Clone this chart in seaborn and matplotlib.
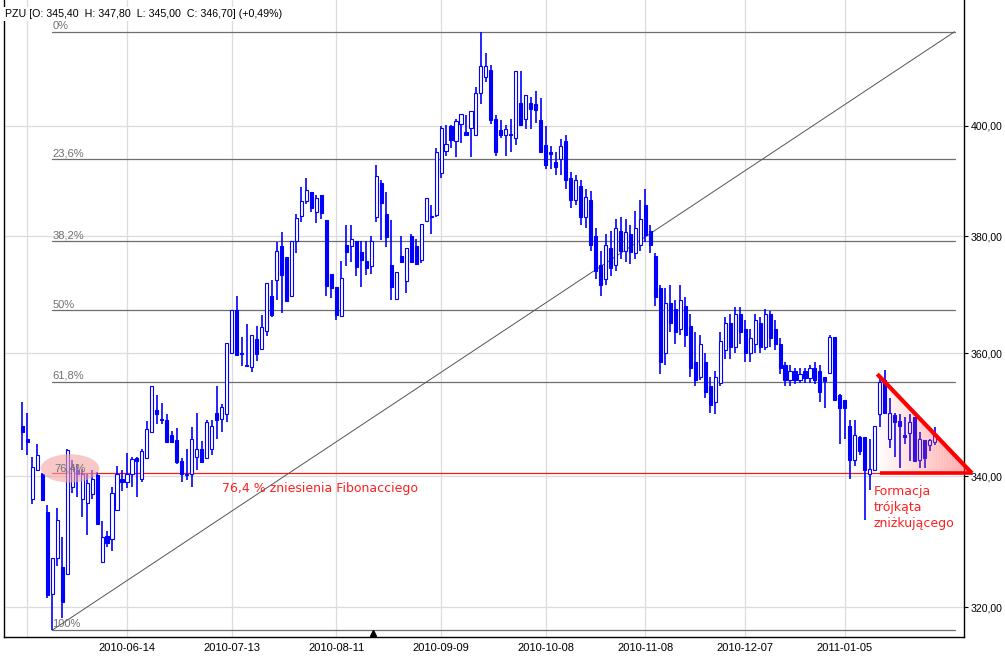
import numpy as np
import pandas as pd
import matplotlib
matplotlib.use("Agg")
import matplotlib.pyplot as plt
import matplotlib.transforms as mtransforms
from matplotlib.patches import Polygon
from matplotlib.ticker import NullLocator
import seaborn as sns

# ---------------- data ----------------
opens = [348.1, 345.9, 336.5, 341.0, 340.4, 334.5, 321.9, 327.3, 326.0, 325.0,
         338.4, 341.0, 336.5, 335.9, 337.2, 340.2, 326.7, 330.7, 330.2, 334.8,
         339.6, 339.1, 340.3, 342.9, 339.6, 342.9, 347.0, 350.6, 349.1, 349.0,
         346.5, 345.8, 342.5, 340.4, 340.3, 343.1, 344.4, 342.9, 344.3, 350.1,
         349.2, 350.0, 360.0, 367.2, 359.9, 358.0, 357.6, 362.4, 360.7, 363.7,
         369.7, 372.4, 378.3, 376.4, 369.7, 379.2, 383.6, 386.2, 387.9, 384.3,
         387.3, 382.9, 373.4, 371.2, 366.3, 378.5, 378.3, 379.2, 377.2, 375.7,
         374.8, 383.4, 389.6, 383.9, 375.0, 369.1, 376.6, 372.2, 380.0, 378.3,
         375.8, 382.8, 383.4, 383.7, 391.3, 395.3, 400.0, 397.1, 400.3, 398.9,
         399.6, 398.3, 406.1, 409.2, 410.5, 401.2, 399.2, 398.3, 398.4, 397.7,
         404.2, 401.2, 404.2, 404.1, 401.1, 396.5, 395.1, 393.4, 393.8, 397.2,
         390.5, 386.5, 389.0, 383.5, 386.5, 380.0, 375.0, 372.5, 378.0, 375.0,
         381.0, 377.5, 380.5, 377.0, 378.5, 385.5, 381.0, 376.5, 371.0, 360.0,
         368.5, 367.5, 364.0, 368.0, 364.5, 358.5, 356.0, 358.5, 354.5, 352.0,
         355.0, 360.5, 365.0, 361.0, 366.5, 364.0, 360.0, 361.5, 365.0, 361.0,
         366.5, 364.0, 361.5, 358.0, 355.5, 357.0, 355.5, 357.0, 355.8, 357.5,
         357.0, 356.0, 356.6, 362.6, 353.0, 352.2, 348.1, 342.6, 346.3, 346.3,
         340.4, 341.0, 349.9, 355.5, 346.0, 349.8, 348.9, 346.6, 346.9, 349.5,
         342.6, 345.8, 345.0, 345.4]
highs = [352.0, 350.1, 343.1, 345.1, 340.5, 335.5, 327.3, 335.1, 330.5, 344.3,
         342.6, 341.9, 341.1, 340.3, 341.0, 340.7, 333.0, 331.5, 338.4, 341.7,
         341.0, 343.7, 343.1, 343.1, 344.3, 348.8, 354.6, 353.0, 351.8, 350.0,
         347.2, 347.7, 342.9, 344.4, 347.9, 350.1, 345.6, 349.0, 349.0, 354.6,
         351.6, 361.7, 367.2, 369.6, 362.6, 364.9, 363.1, 364.5, 366.4, 371.8,
         372.4, 379.0, 380.8, 376.4, 379.2, 384.0, 388.8, 390.4, 387.9, 387.3,
         387.3, 382.9, 373.4, 371.2, 375.7, 382.0, 382.0, 379.2, 379.2, 379.2,
         380.1, 392.8, 390.0, 387.9, 382.9, 373.7, 380.0, 377.9, 380.4, 379.6,
         382.1, 386.8, 385.5, 395.9, 400.0, 400.2, 400.2, 401.2, 402.2, 402.0,
         402.8, 407.2, 417.8, 413.8, 411.4, 402.0, 401.1, 400.2, 401.3, 410.2,
         410.2, 405.8, 405.3, 406.4, 405.2, 400.0, 396.2, 395.1, 397.6, 398.2,
         391.5, 391.0, 390.0, 388.4, 388.0, 381.5, 377.5, 380.5, 381.0, 383.0,
         383.5, 383.0, 382.0, 384.5, 386.5, 388.4, 382.0, 377.0, 371.5, 371.0,
         371.5, 369.0, 371.5, 369.5, 366.5, 363.5, 363.0, 360.0, 356.0, 357.0,
         363.5, 366.0, 366.5, 367.8, 367.8, 365.5, 364.0, 366.5, 366.0, 367.5,
         367.0, 365.5, 362.5, 358.5, 358.0, 357.5, 357.5, 357.5, 358.0, 358.5,
         358.0, 356.1, 363.0, 362.6, 353.3, 352.2, 349.0, 349.0, 346.4, 346.3,
         346.0, 348.1, 355.8, 357.2, 352.5, 350.2, 350.0, 349.5, 350.0, 349.5,
         347.0, 345.8, 346.0, 347.8]
lows = [344.1, 343.4, 335.7, 340.8, 336.2, 321.4, 316.6, 326.2, 318.4, 325.0,
        337.4, 336.7, 333.6, 330.9, 336.4, 332.6, 326.7, 329.0, 328.5, 334.8,
        337.7, 338.2, 338.4, 336.7, 339.1, 342.9, 347.0, 348.3, 348.3, 345.4,
        345.5, 341.9, 339.1, 339.4, 338.4, 341.0, 342.2, 342.9, 343.4, 346.0,
        347.0, 348.6, 360.0, 359.7, 357.8, 357.8, 356.9, 358.6, 360.7, 362.8,
        366.1, 369.0, 366.8, 368.8, 369.7, 377.0, 382.6, 385.7, 384.3, 382.3,
        383.1, 369.6, 369.3, 365.5, 366.3, 374.8, 375.5, 373.0, 371.2, 373.3,
        373.5, 382.6, 379.3, 378.2, 369.0, 369.1, 375.6, 370.2, 375.5, 375.1,
        375.4, 382.8, 380.4, 383.4, 390.4, 394.5, 395.8, 394.2, 396.8, 398.2,
        394.2, 398.3, 404.1, 408.1, 400.3, 394.5, 397.7, 394.4, 395.1, 396.4,
        400.1, 399.3, 399.3, 400.5, 395.1, 392.1, 392.1, 391.0, 391.0, 388.5,
        385.0, 385.5, 382.0, 381.5, 377.5, 372.5, 369.6, 371.5, 373.0, 374.0,
        376.0, 375.5, 375.2, 376.0, 377.5, 379.0, 377.0, 368.0, 356.5, 358.0,
        363.5, 361.5, 363.0, 361.0, 356.0, 354.5, 355.5, 352.5, 350.2, 350.0,
        354.5, 359.0, 359.0, 360.0, 361.5, 358.5, 358.5, 360.0, 360.0, 360.5,
        361.0, 360.5, 356.5, 354.5, 354.5, 354.8, 355.0, 355.0, 355.0, 354.8,
        352.0, 351.0, 356.6, 352.2, 345.1, 346.0, 339.6, 341.6, 343.4, 333.2,
        337.9, 341.0, 347.9, 350.2, 344.5, 343.1, 341.3, 345.1, 342.4, 342.4,
        341.3, 341.3, 344.0, 345.0]
closes = [347.0, 345.4, 341.4, 343.3, 336.3, 321.8, 327.3, 333.2, 320.8, 344.1,
          341.4, 340.4, 340.3, 339.0, 339.6, 332.6, 330.6, 329.6, 337.4, 340.3,
          339.1, 340.3, 342.7, 342.5, 344.0, 347.6, 354.6, 350.0, 349.0, 345.4,
          345.5, 342.3, 340.3, 340.2, 346.0, 344.3, 342.2, 348.7, 348.1, 349.0,
          351.1, 361.7, 367.2, 359.7, 359.8, 357.8, 363.1, 359.8, 364.3, 371.8,
          366.4, 377.5, 373.3, 368.8, 379.2, 383.2, 386.2, 388.2, 385.1, 386.8,
          384.2, 371.4, 371.0, 366.4, 372.7, 377.2, 379.5, 374.6, 375.8, 374.5,
          379.1, 390.7, 385.9, 379.9, 371.2, 373.7, 375.6, 377.9, 375.5, 375.1,
          382.1, 386.8, 383.6, 395.2, 399.6, 396.7, 397.3, 400.8, 402.2, 398.2,
          402.8, 406.1, 411.2, 411.2, 401.1, 395.1, 398.2, 399.4, 398.3, 410.2,
          400.1, 405.8, 403.1, 402.9, 395.1, 392.8, 394.7, 392.4, 396.3, 390.0,
          386.5, 390.0, 383.5, 387.0, 378.5, 374.0, 371.5, 378.5, 374.5, 381.5,
          377.5, 380.8, 377.2, 381.5, 383.0, 380.2, 378.5, 369.5, 358.5, 368.5,
          365.0, 363.5, 369.0, 363.0, 357.5, 355.5, 361.5, 353.5, 351.5, 356.0,
          362.0, 365.0, 361.0, 366.5, 363.5, 360.0, 362.5, 365.5, 361.0, 366.5,
          362.5, 361.5, 357.5, 355.5, 357.0, 355.5, 356.5, 355.8, 357.5, 355.5,
          353.5, 355.4, 362.6, 352.2, 351.0, 351.0, 342.6, 346.5, 344.0, 341.0,
          341.1, 348.1, 355.2, 350.2, 350.1, 348.7, 348.0, 346.3, 348.6, 342.4,
          345.9, 342.9, 345.8, 346.7]

first_day = "2010-05-13"
last_day = "2011-02-01"
holidays = ["2010-06-03", "2010-11-01", "2010-11-11", "2010-12-24", "2011-01-06"]
tick_dates = ["2010-05-14", "2010-06-14", "2010-07-13", "2010-08-11", "2010-09-09",
              "2010-10-08", "2010-11-08", "2010-12-07", "2011-01-05"]
price_ticks = [320, 340, 360, 380, 400]
fib_ratios = [0.0, 0.236, 0.382, 0.5, 0.618, 0.764, 1.0]
fib_labels = ["0%", "23,6%", "38,2%", "50%", "61,8%", "76,4%", "100%"]
title = "PZU [O: 345,40  H: 347,80  L: 345,00  C: 346,70] (+0,49%)"
fib_note = "76,4 % zniesienia Fibonacciego"
pattern_note = "Formacja\ntrójkąta\nzniżkującego"
triangle_top_price = 356.5

# ---------------- build ----------------
o = np.array(opens); h = np.array(highs); l = np.array(lows); c = np.array(closes)
n = len(o)
days = pd.bdate_range(first_day, last_day)
days = days[~days.isin(pd.to_datetime(holidays))][:n]
df = pd.DataFrame({"date": days, "open": o, "high": h, "low": l, "close": c})
df["idx"] = np.arange(n)
pos = {d: i for i, d in enumerate(df["date"])}
tick_idx = [pos[pd.Timestamp(d)] for d in tick_dates]
tick_lab = [""] + tick_dates[1:]

sns.set_theme(style="white")
plt.rcParams["font.family"] = ["Liberation Sans", "DejaVu Sans"]
narrow = ["Liberation Sans Narrow", "Liberation Sans", "DejaVu Sans"]

W, H = 1005, 663
fig = plt.figure(figsize=(W / 100, H / 100), dpi=100)
fig.patch.set_facecolor("white")
ax_l, ax_r, ax_t, ax_b = 3.5, 964, 0, 637
ax = fig.add_axes([ax_l / W, 1 - ax_b / H, (ax_r - ax_l) / W, (ax_b - ax_t) / H])
ax.set_facecolor("white")
ax.set_yscale("log")
ax.set_ylim(315.6, 424.0)
ax.set_xlim(-3.77, 188.9)

# grid and axes
ax.set_axisbelow(True)
ax.yaxis.tick_right()
ax.set_yticks(price_ticks)
ax.set_yticklabels([f"{v:.2f}".replace(".", ",") for v in price_ticks],
                   fontfamily=narrow, fontsize=7.6)
ax.yaxis.set_minor_locator(NullLocator())
ax.set_xticks(tick_idx)
ax.set_xticklabels(tick_lab, fontfamily=narrow, fontsize=8)
ax.tick_params(axis="y", right=True, length=3, width=0.8, color="black", pad=2,
               labelcolor="black")
ax.tick_params(axis="x", bottom=False, length=0, pad=4, labelcolor="black")
ax.grid(True, color="#dcdcdc", lw=0.9)
for s in ["left", "right", "bottom"]:
    ax.spines[s].set_visible(True)
    ax.spines[s].set_color("black")
    ax.spines[s].set_linewidth(1.0)
ax.spines["top"].set_visible(False)

# fibonacci levels
hi = df["high"].max(); lo = df["low"].min()
fib_start = int(df["low"].idxmin())
fib_end = n + 3
levels = [hi - r * (hi - lo) for r in fib_ratios]
for r, lev, lab in zip(fib_ratios, levels, fib_labels):
    col = "#ff1a1a" if lab == "76,4%" else "#6e6e6e"
    ax.plot([fib_start, fib_end], [lev, lev], color=col, lw=0.9, zorder=2)
    if lab == "76,4%":
        ax.annotate(lab, (fib_start, lev), xytext=(1.5, 3.5), textcoords="offset points",
                    ha="left", va="center", fontsize=8, color="#707070", family=narrow,
                    zorder=6,
                    bbox=dict(boxstyle="ellipse,pad=0.45", fc="#f4a4a4", ec="none",
                              alpha=0.6))
    else:
        ax.annotate(lab, (fib_start, lev), xytext=(0, 0.5), textcoords="offset points",
                    ha="left", va="bottom", fontsize=8, color="#707070", family=narrow,
                    zorder=6)
# diagonal of the tool
sns.lineplot(x=[fib_start, fib_end], y=[lo, hi], ax=ax, color="#555555", lw=0.7,
             zorder=2, legend=False)

# candles
blue = "#0000ff"
up = df["close"] >= df["open"]
ax.vlines(df["idx"], df["low"], df["high"], color=blue, lw=1.2, zorder=3)
bw = 0.62
bot = np.minimum(df["open"], df["close"])
hgt = np.maximum(np.abs(df["close"] - df["open"]), 0.12)
ax.bar(df["idx"][up], hgt[up], bottom=bot[up], width=bw, facecolor="white",
       edgecolor=blue, lw=0.8, zorder=4)
ax.bar(df["idx"][~up], hgt[~up], bottom=bot[~up], width=bw, facecolor=blue,
       edgecolor=blue, lw=0.8, zorder=4)

# descending triangle with gradient
lev764 = levels[5]
tx0, tx1 = 171.5, 190.5
ly0, ly1 = np.log(triangle_top_price), np.log(lev764)
nstrip = 60
xs = np.linspace(tx0, tx1, nstrip + 1)
for i in range(nstrip):
    xa, xb = xs[i], xs[i + 1]
    ya = np.exp(ly0 + (ly1 - ly0) * (xa - tx0) / (tx1 - tx0))
    yb = np.exp(ly0 + (ly1 - ly0) * (xb - tx0) / (tx1 - tx0))
    a = 0.55 * (i + 0.5) / nstrip
    ax.add_patch(Polygon([(xa, lev764), (xa, ya), (xb, yb), (xb, lev764)], closed=True,
                         facecolor=(1.0, 0.35, 0.35, a), edgecolor="none", zorder=5,
                         clip_on=False))
ax.plot([tx0, tx1], [triangle_top_price, lev764], color="#ff0000", lw=3.0, zorder=6,
        clip_on=False, solid_capstyle="butt")
ax.plot([tx0 + 0.5, tx1], [lev764, lev764], color="#ff0000", lw=2.6, zorder=6,
        clip_on=False, solid_capstyle="butt")

# annotations
ax.annotate(fib_note, (40, lev764), xytext=(0, -11), textcoords="offset points",
            ha="left", va="center", fontsize=9, color="#ff2020", family="DejaVu Sans",
            zorder=7)
ax.annotate(pattern_note, (170.7, lev764), xytext=(0, -8.5), textcoords="offset points",
            ha="left", va="top", fontsize=9, color="#ff2020", family="DejaVu Sans",
            linespacing=1.3, zorder=7)

# small marker at the bottom
trans = mtransforms.blended_transform_factory(ax.transData, ax.transAxes)
ax.plot([70.4], [0.006], marker="^", color="black", ms=5, transform=trans,
        clip_on=False, zorder=8)

# title
fig.text(5 / W, 1 - 14 / H, title, ha="left", va="center", fontsize=7.7, color="black",
         family=["Liberation Sans", "DejaVu Sans"],
         bbox=dict(fc="white", ec="none", pad=1.5))

fig.savefig("out.png", dpi=100, facecolor="white")
